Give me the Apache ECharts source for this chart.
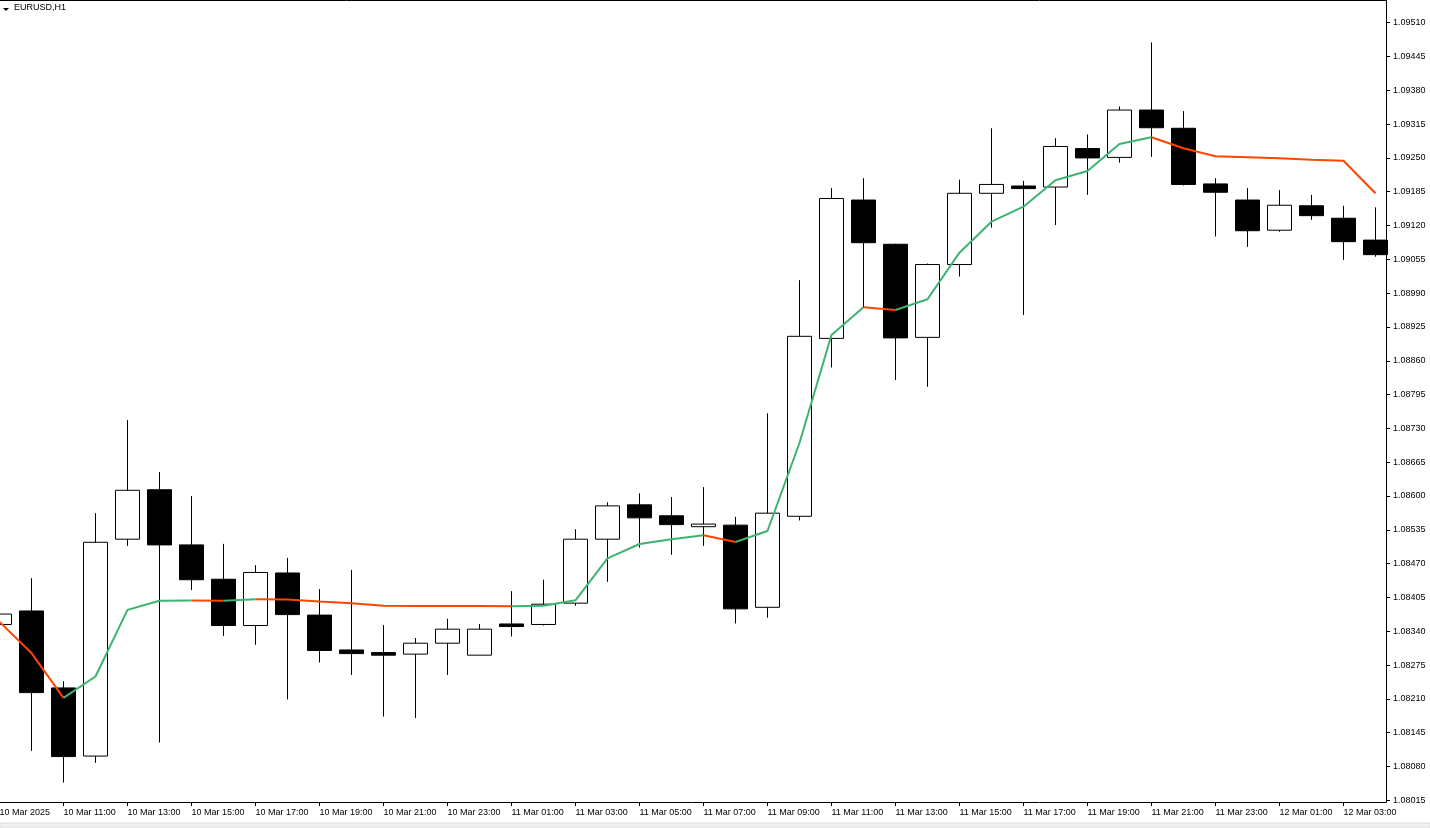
<!DOCTYPE html>
<html><head><meta charset="utf-8">
<script src="https://cdn.jsdelivr.net/npm/echarts@6/dist/echarts.min.js"></script>
<style>html,body{margin:0;padding:0;background:#fff;overflow:hidden}#chart{width:1430px;height:828px}</style>
</head><body><div id="chart"></div>
<script>
// ---- data ----
const times = [
 '10 Mar 09:00','10 Mar 10:00','10 Mar 11:00','10 Mar 12:00','10 Mar 13:00','10 Mar 14:00','10 Mar 15:00','10 Mar 16:00',
 '10 Mar 17:00','10 Mar 18:00','10 Mar 19:00','10 Mar 20:00','10 Mar 21:00','10 Mar 22:00','10 Mar 23:00',
 '11 Mar 00:00','11 Mar 01:00','11 Mar 02:00','11 Mar 03:00','11 Mar 04:00','11 Mar 05:00','11 Mar 06:00','11 Mar 07:00',
 '11 Mar 08:00','11 Mar 09:00','11 Mar 10:00','11 Mar 11:00','11 Mar 12:00','11 Mar 13:00','11 Mar 14:00','11 Mar 15:00',
 '11 Mar 16:00','11 Mar 17:00','11 Mar 18:00','11 Mar 19:00','11 Mar 20:00','11 Mar 21:00','11 Mar 22:00','11 Mar 23:00',
 '12 Mar 00:00','12 Mar 01:00','12 Mar 02:00','12 Mar 03:00','12 Mar 04:00'
];
const open = [1.08353,1.08379,1.08231,1.08100,1.08517,1.08612,1.08506,1.08440,1.08351,1.08452,1.08371,1.08304,1.08299,1.08296,1.08317,1.08294,1.08354,1.08353,1.08394,1.08517,1.08583,1.08562,1.08541,1.08544,1.08386,1.08561,1.08903,1.09169,1.09084,1.08905,1.09045,1.09182,1.09196,1.09194,1.09268,1.09251,1.09342,1.09307,1.09200,1.09169,1.09111,1.09158,1.09134,1.09092];
const close = [1.08373,1.08222,1.08099,1.08511,1.08611,1.08506,1.08439,1.08351,1.08453,1.08372,1.08303,1.08297,1.08294,1.08317,1.08344,1.08344,1.08349,1.08392,1.08517,1.08581,1.08558,1.08545,1.08546,1.08383,1.08567,1.08907,1.09172,1.09087,1.08904,1.09045,1.09182,1.09199,1.09191,1.09272,1.09250,1.09342,1.09308,1.09199,1.09184,1.09110,1.09159,1.09139,1.09089,1.09064];
const low = [1.08350,1.08110,1.08049,1.08087,1.08504,1.08126,1.08419,1.08331,1.08314,1.08209,1.08280,1.08256,1.08176,1.08173,1.08256,1.08294,1.08330,1.08351,1.08389,1.08435,1.08501,1.08487,1.08504,1.08355,1.08366,1.08553,1.08847,1.08962,1.08823,1.08810,1.09022,1.09116,1.08948,1.09121,1.09179,1.09241,1.09252,1.09197,1.09099,1.09079,1.09108,1.09131,1.09054,1.09060];
const high = [1.08377,1.08442,1.08244,1.08567,1.08746,1.08646,1.08600,1.08508,1.08467,1.08481,1.08421,1.08458,1.08352,1.08327,1.08364,1.08354,1.08417,1.08439,1.08536,1.08588,1.08605,1.08598,1.08617,1.08560,1.08759,1.09015,1.09192,1.09211,1.09085,1.09047,1.09208,1.09307,1.09206,1.09288,1.09295,1.09349,1.09472,1.09340,1.09211,1.09192,1.09188,1.09179,1.09158,1.09155];
const ma = [1.083580,1.082980,1.082120,1.082530,1.083810,1.083987,1.083991,1.083985,1.084014,1.084010,1.083972,1.083937,1.083891,1.083887,1.083885,1.083883,1.083881,1.083891,1.083995,1.084802,1.085077,1.085168,1.085245,1.085116,1.085327,1.087019,1.089095,1.089628,1.089576,1.089782,1.090678,1.091274,1.091562,1.092070,1.092248,1.092767,1.092896,1.092685,1.092531,1.092512,1.092493,1.092466,1.092446,1.091820];
const xLabelIndex = [0,2,4,6,8,10,12,14,16,18,20,22,24,26,28,30,32,34,36,38,40,42];
const xLabels = ['10 Mar 2025','10 Mar 11:00','10 Mar 13:00','10 Mar 15:00','10 Mar 17:00','10 Mar 19:00','10 Mar 21:00','10 Mar 23:00',
 '11 Mar 01:00','11 Mar 03:00','11 Mar 05:00','11 Mar 07:00','11 Mar 09:00','11 Mar 11:00','11 Mar 13:00','11 Mar 15:00',
 '11 Mar 17:00','11 Mar 19:00','11 Mar 21:00','11 Mar 23:00','12 Mar 01:00','12 Mar 03:00'];
const yTicks = [1.08015,1.08080,1.08145,1.08210,1.08275,1.08340,1.08405,1.08470,1.08535,1.08600,1.08665,1.08730,1.08795,1.08860,1.08925,1.08990,1.09055,1.09120,1.09185,1.09250,1.09315,1.09380,1.09445,1.09510];
const symbolName = 'EURUSD,H1';

// ---- build ----
const candleData = times.map((t, i) => [i, open[i], close[i], low[i], high[i]]);
const UP = '#3cb371', DOWN = '#ff4500';
const lineSeries = [];
let start = 0;
for (let i = 1; i < ma.length; i++) {
  const up = ma[i] > ma[i - 1];
  const last = i === ma.length - 1;
  const nextUp = last ? null : ma[i + 1] > ma[i];
  if (last || nextUp !== up) {
    const pts = [];
    for (let k = start; k <= i; k++) pts.push([k, ma[k]]);
    lineSeries.push({
      type: 'line', data: pts, showSymbol: false, symbol: 'none',
      lineStyle: { color: up ? UP : DOWN, width: 2 }, z: 5, silent: true
    });
    start = i;
  }
}
const FONT = '"Liberation Sans", Arial, sans-serif';
const chart = echarts.init(document.getElementById('chart'), null, { renderer: 'canvas' });
chart.setOption({
  animation: false,
  backgroundColor: '#ffffff',
  grid: { left: -0.5, right: 44, top: 0, bottom: 26, containLabel: false, outerBoundsMode: 'none' },
  xAxis: {
    type: 'value', min: 0, max: 43.33,
    axisLine: { show: true, onZero: false, lineStyle: { color: '#000', width: 1 } },
    axisTick: { show: true, length: 4, lineStyle: { color: '#000' }, customValues: xLabelIndex.slice(1) },
    axisLabel: {
      customValues: xLabelIndex, color: '#000', fontSize: 9, fontFamily: FONT, align: 'left', margin: 6,
      formatter: v => { const j = xLabelIndex.indexOf(Math.round(v)); return j >= 0 ? xLabels[j] : ''; }
    },
    splitLine: { show: false }
  },
  yAxis: {
    type: 'value', position: 'right', min: 1.080117, max: 1.095536, scale: true,
    axisLine: { show: true, onZero: false, lineStyle: { color: '#000', width: 1 } },
    axisTick: { show: true, length: 4, lineStyle: { color: '#000' }, customValues: yTicks },
    axisLabel: { customValues: yTicks, color: '#000', fontSize: 9, fontFamily: FONT, margin: 7,
      formatter: v => Number(v).toFixed(5) },
    splitLine: { show: false }
  },
  series: [{
    type: 'candlestick', data: candleData, barWidth: 24,
    encode: { x: 0, y: [1, 2, 3, 4] },
    itemStyle: { color: '#ffffff', color0: '#000000', borderColor: '#000000', borderColor0: '#000000', borderWidth: 1 },
    silent: true, z: 3
  }].concat(lineSeries),
  graphic: [
    { type: 'line', shape: { x1: 0, y1: 0.5, x2: 1386, y2: 0.5 }, style: { stroke: '#000', lineWidth: 1 }, silent: true },
    { type: 'polygon', shape: { points: [[3, 8], [9, 8], [6, 11]] }, style: { fill: '#000' }, silent: true },
    { type: 'text', x: 14, y: 8, style: { text: symbolName, fontSize: 9, fontFamily: FONT, fill: '#000', verticalAlign: 'middle' }, silent: true },
    { type: 'rect', shape: { x: 0, y: 823, width: 1430, height: 5 }, style: { fill: '#f0f0f0', stroke: '#e0e0e0', lineWidth: 1 }, silent: true }
  ]
});
</script>
</body></html>
